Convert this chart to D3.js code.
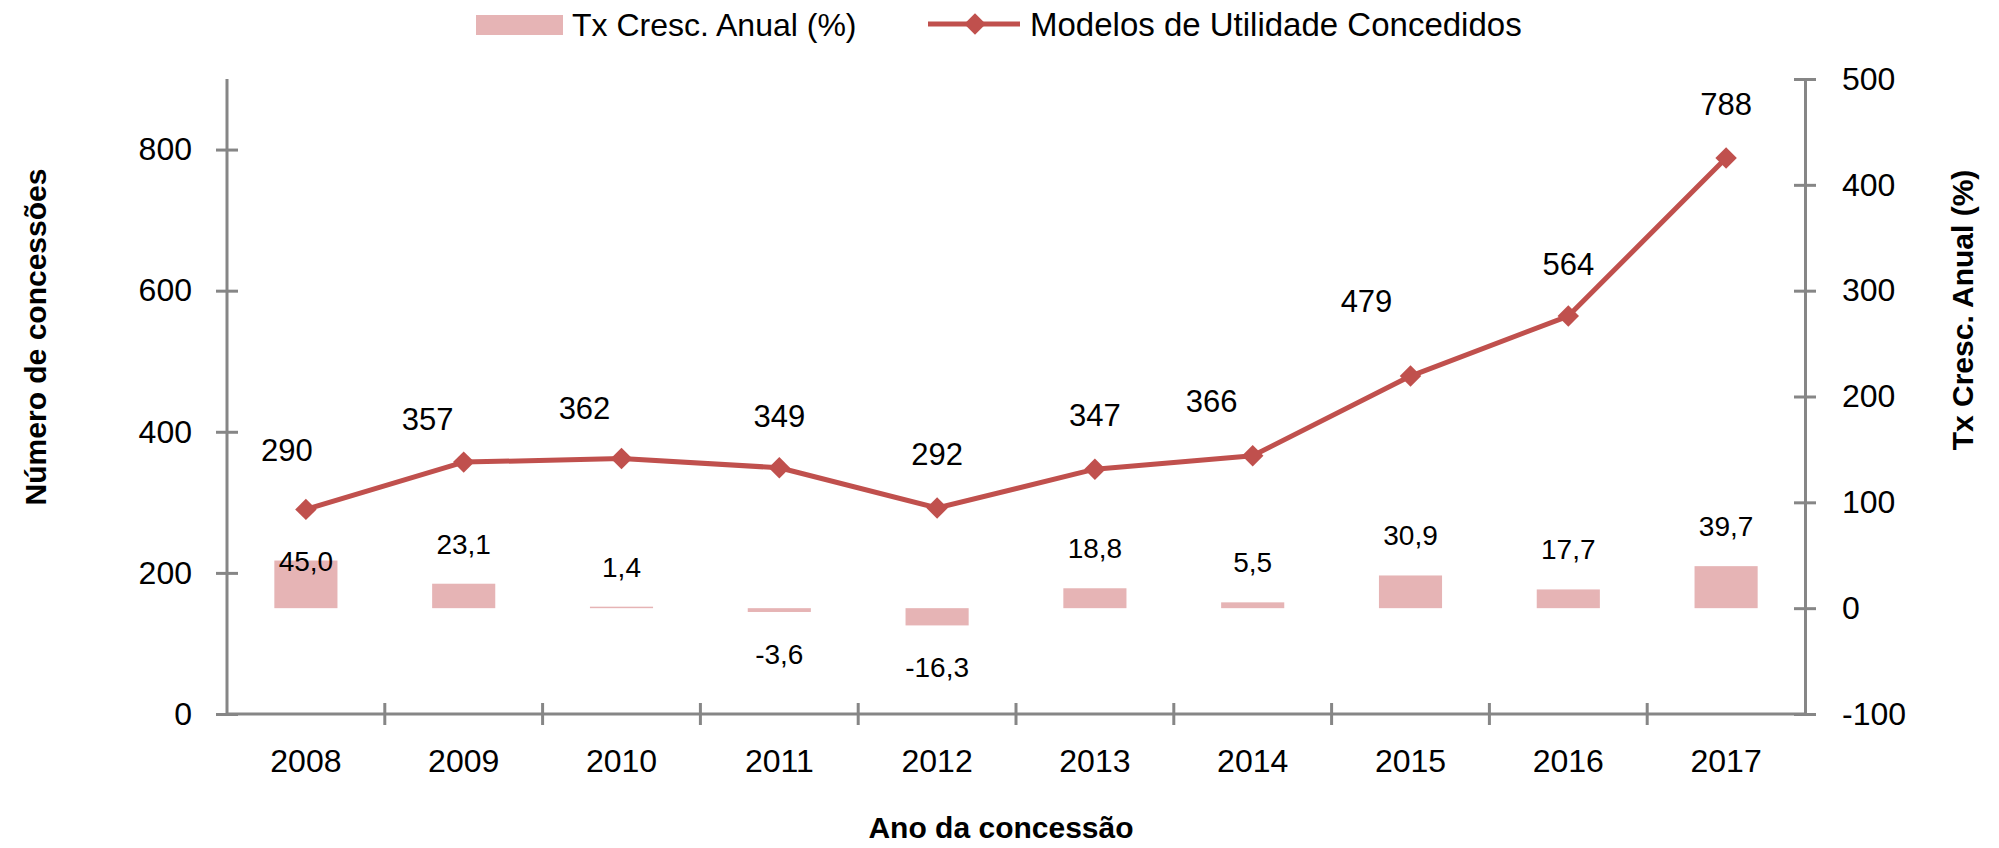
<!DOCTYPE html>
<html>
<head>
<meta charset="utf-8">
<script src="https://cdn.jsdelivr.net/npm/d3@7"></script>
<style>
  html, body { margin: 0; padding: 0; background: #fff; }
  svg text { font-family: "Liberation Sans", Arial, sans-serif; fill: #000; }
</style>
</head>
<body>
<svg id="chart"></svg>
<script>
// data
const years = ["2008", "2009", "2010", "2011", "2012", "2013", "2014", "2015", "2016", "2017"];
const concedidos = [290, 357, 362, 349, 292, 347, 366, 479, 564, 788];
const txCresc = [45.0, 23.1, 1.4, -3.6, -16.3, 18.8, 5.5, 30.9, 17.7, 39.7];
const leftTicks = [0, 200, 400, 600, 800];
const rightTicks = [-100, 0, 100, 200, 300, 400, 500];
const barName = "Tx Cresc. Anual (%)";
const lineName = "Modelos de Utilidade Concedidos";

window.onload = () => {
  const width = 1999, height = 848;
  const lineColor = "#c0504d";
  const barColor = "#e6b4b5";
  const axisColor = "#868686";

  const svg = d3.select("#chart").attr("width", width).attr("height", height);

  const x = d3.scaleBand().domain(years).range([227, 1805]).padding(0);
  const yL = d3.scaleLinear().domain([0, 900]).range([714, 79]);
  const yR = d3.scaleLinear().domain([-100, 500]).range([714, 79]);
  // portuguese style numbers, plain hyphen for minus
  const loc = d3.formatLocale({ decimal: ",", thousands: ".", grouping: [3], currency: ["", ""], minus: "-" });
  const pt = loc.format(".1f");
  const intf = loc.format("d");

  // bars (right axis)
  const bw = x.bandwidth() * 0.4;
  svg.append("g")
    .selectAll("rect")
    .data(txCresc)
    .join("rect")
    .attr("x", (d, i) => x(years[i]) + (x.bandwidth() - bw) / 2)
    .attr("y", d => yR(Math.max(0, d)))
    .attr("width", bw)
    .attr("height", d => Math.abs(yR(d) - yR(0)))
    .attr("fill", barColor);

  // axes
  function styleAxis(g) {
    g.select(".domain").attr("stroke", axisColor).attr("stroke-width", 3);
    g.selectAll(".tick line").attr("stroke", axisColor).attr("stroke-width", 3);
    g.selectAll(".tick text").style("font-size", "32px");
  }

  const gl = svg.append("g").attr("transform", "translate(227,0)")
    .call(d3.axisLeft(yL).tickValues(leftTicks).tickFormat(intf).tickSizeOuter(0).tickSizeInner(11).tickPadding(24));
  styleAxis(gl);
  gl.selectAll(".tick line").attr("x1", 11).attr("x2", -11);
  gl.select(".domain").attr("d", `M0,${yL.range()[1]}V${yL.range()[0]}`);

  const gr = svg.append("g").attr("transform", "translate(1805,0)")
    .call(d3.axisRight(yR).tickValues(rightTicks).tickFormat(intf).tickSizeOuter(0).tickSizeInner(11).tickPadding(26));
  styleAxis(gr);
  gr.selectAll(".tick line").attr("x1", -11).attr("x2", 11);

  // x axis with ticks between categories
  const gx = svg.append("g").attr("transform", "translate(0,714)");
  gx.append("line").attr("x1", 227).attr("x2", 1805)
    .attr("stroke", axisColor).attr("stroke-width", 3);
  gx.selectAll("line.tk")
    .data(years.slice(1))
    .join("line")
    .attr("class", "tk")
    .attr("x1", d => x(d)).attr("x2", d => x(d))
    .attr("y1", -11).attr("y2", 11)
    .attr("stroke", axisColor).attr("stroke-width", 3);
  gx.selectAll("text")
    .data(years)
    .join("text")
    .attr("x", d => x(d) + x.bandwidth() / 2)
    .attr("y", 58)
    .attr("text-anchor", "middle")
    .style("font-size", "32px")
    .text(d => d);

  // line series (left axis)
  const cx = (d, i) => x(years[i]) + x.bandwidth() / 2;
  svg.append("path")
    .datum(concedidos)
    .attr("fill", "none")
    .attr("stroke", lineColor)
    .attr("stroke-width", 5)
    .attr("stroke-linejoin", "round")
    .attr("d", d3.line().x(cx).y(d => yL(d)));

  const diamond = d3.symbol(d3.symbolSquare, 230);
  svg.append("g")
    .selectAll("path")
    .data(concedidos)
    .join("path")
    .attr("d", diamond)
    .attr("fill", lineColor)
    .attr("transform", (d, i) => `translate(${cx(d, i)},${yL(d)}) rotate(45)`);

  // line labels, nudged like in the original
  const lineNudge = [[-19, -59], [-36, -43], [-37, -51], [0, -52], [0, -54], [0, -54], [-41, -55], [-44, -75], [0, -52], [0, -54]];
  svg.append("g")
    .selectAll("text")
    .data(concedidos)
    .join("text")
    .attr("x", (d, i) => cx(d, i) + lineNudge[i][0])
    .attr("y", (d, i) => yL(d) + lineNudge[i][1] + 11)
    .attr("text-anchor", "middle")
    .style("font-size", "31px")
    .text(d => intf(d));

  // bar labels
  svg.append("g")
    .selectAll("text")
    .data(txCresc)
    .join("text")
    .attr("x", (d, i) => cx(d, i))
    .attr("y", (d, i) => {
      if (i === 0) return yR(d) + 10;
      return d >= 0 ? yR(d) - 40 + 10 : yR(d) + 42 + 10;
    })
    .attr("text-anchor", "middle")
    .style("font-size", "28px")
    .text(d => pt(d));

  // axis titles
  svg.append("text")
    .attr("transform", "translate(46,337) rotate(-90)")
    .attr("text-anchor", "middle")
    .style("font-size", "30px").style("font-weight", "bold")
    .text("Número de concessões");
  svg.append("text")
    .attr("transform", "translate(1973,310) rotate(-90)")
    .attr("text-anchor", "middle")
    .style("font-size", "30px").style("font-weight", "bold")
    .text("Tx Cresc. Anual (%)");
  svg.append("text")
    .attr("x", 1001).attr("y", 838)
    .attr("text-anchor", "middle")
    .style("font-size", "30px").style("font-weight", "bold")
    .text("Ano da concessão");

  // legend
  const lg = svg.append("g");
  lg.append("rect").attr("x", 476).attr("y", 15).attr("width", 87).attr("height", 20).attr("fill", barColor);
  lg.append("text").attr("x", 572).attr("y", 36).style("font-size", "32px").text(barName);
  lg.append("line").attr("x1", 928).attr("x2", 1020).attr("y1", 24).attr("y2", 24)
    .attr("stroke", lineColor).attr("stroke-width", 5);
  lg.append("path").attr("d", diamond).attr("fill", lineColor)
    .attr("transform", "translate(975,24) rotate(45)");
  lg.append("text").attr("x", 1030).attr("y", 36).style("font-size", "33px").text(lineName);
};
</script>
</body>
</html>
